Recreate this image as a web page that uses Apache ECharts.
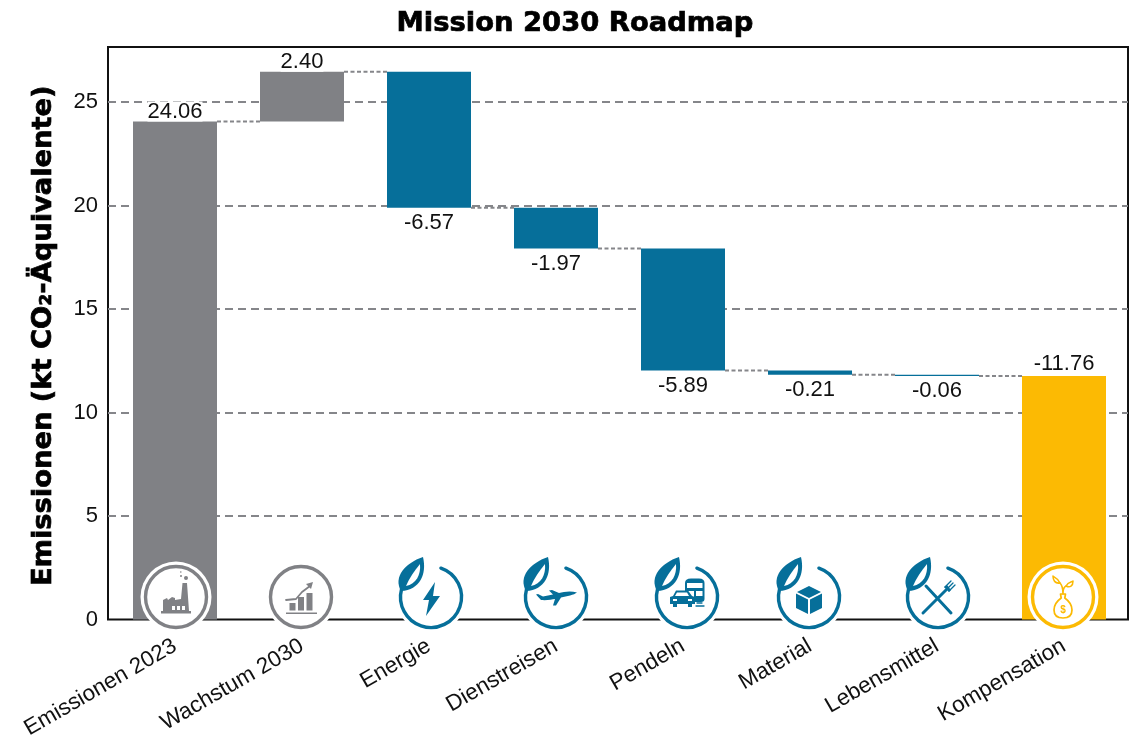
<!DOCTYPE html>
<html><head><meta charset="utf-8">
<style>html,body{margin:0;padding:0;background:#fff}#c{width:1135px;height:735px}</style>
<script src="https://cdn.jsdelivr.net/npm/echarts@6/dist/echarts.min.js"></script>
</head><body><div id="c"></div>
<script>
const categories = ['Emissionen 2023','Wachstum 2030','Energie','Dienstreisen','Pendeln','Material','Lebensmittel','Kompensation'];
const values = [24.06, 2.40, -6.57, -1.97, -5.89, -0.21, -0.06, -11.76];
const kinds = ['gray','gray','blue','blue','blue','blue','blue','gold'];
const iconNames = ['factory','growth','bolt','plane','commute','cube','cutlery','bag'];
const yTicksMax = 27.66;

const palette = {gray:'#808185', blue:'#066f9a', gold:'#fcba03'};
const SANS = '"Liberation Sans", Arial, sans-serif';
const HEAVY = '"DejaVu Sans", sans-serif';

// running totals derived from the values
const tops = [], bases = [], levels = [];
let run = 0;
values.forEach((v,i)=>{
  if (i === values.length-1) { bases.push(0); tops.push(-v); levels.push(-v); return; }
  const next = run + v;
  bases.push(Math.min(run,next));
  tops.push(Math.abs(v));
  run = next;
  levels.push(run);
});

const iconDx = [1,-1,2,0,4,-1,1,-1];
const fill = c => ({fill:c, stroke:null});
const line = (c,w) => ({fill:'none', stroke:c, lineWidth:w===undefined?1.5:w, lineCap:'round', lineJoin:'round'});
const P = (d,style) => ({type:'path', shape:{pathData:d}, style});

const LEAF = c => [
  P('M-30,-6 C-38,-20 -26,-34 -8,-40 C-4,-23 -11,-7 -30,-6 Z', fill(c)),
  P('M-25,-11 C-22,-18 -17,-26 -11,-33 C-10,-22 -15,-13 -25,-11 Z', fill('#fff'))
];
const glyphs = {
  factory: c => [
    P('M-15,14 L-13,14 L-13,3 L-9,1 L-8,3 L-4,0 L-1,1 L-1,3 L5,2 L6.5,-14 L11,-14 L13,14 L15,14 L15,16.5 L-15,16.5 Z', fill(c)),
    P('M-4,9 h3 v4 h-3 Z M1,9 h3 v4 h-3 Z M6,9 h3 v4 h-3 Z', fill('#fff')),
    P('M8,-19 a2,2 0 1 0 4,0 a2,2 0 1 0 -4,0 Z M4,-21 a1,1 0 1 0 2,0 a1,1 0 1 0 -2,0 Z M4,-25 a0.8,0.8 0 1 0 1.6,0 a0.8,0.8 0 1 0 -1.6,0 Z', fill(c))
  ],
  growth: c => [
    P('M-15,15.5 H16 V17 H-15 Z', fill(c)),
    P('M-11.5,6 h6 v7.5 h-6 Z M-3,0 h6 v13.5 h-6 Z M5.5,-4 h6 v17.5 h-6 Z', fill(c)),
    P('M-15,3 L-5,2 L1,-5 L9,-11', line(c,1.8)),
    P('M5,-13 L12,-15 L10,-8 Z', fill(c))
  ],
  bolt: c => [P('M4,-15 L-8,3 L-2,3 L-5,19 L9,-1 L2,-1 Z', fill(c))],
  plane: c => [
    P('M21,-4.5 C15,-6.5 8,-5.5 3,-4 L-4,-7 L-7,-6.5 L-3,-2.5 L-13,-0.5 L-18,-3 L-20,-2.5 L-15,3 C-9,3.5 -4,2.5 -1,2 L-3,8.5 L0,8.5 L5,0.5 C11,-1 18,-2 21,-4.5 Z', fill(c))
  ],
  commute: c => [
    P('M-2,-14 Q-2,-18.5 4,-18.5 H12 Q17.5,-18.5 17.5,-14 V2 Q17.5,5 14,5 H8 V1 H7 V-6 H-2 Z', fill(c)),
    P('M0,-14 H15.5 V-9 H0 Z M9,-6 H15.5 V-1 H9 Z', fill('#fff')),
    P('M-17,7 V0 L-14,-1 L-11,-6.5 H1 L5,-1 L8,0 V7 H5 V10 H1 V7 H-10 V10 H-14 V7 Z', fill(c)),
    P('M-10,-4.5 H0 L2,-1 H-12 Z', fill('#fff')),
    P('M-14,2 h4 v2 h-4 Z M1,2 h4 v2 h-4 Z', fill('#fff')),
    P('M10,6 L15,6 M9,9 L17,9', line(c,1.3))
  ],
  cube: c => [
    P('M0,-11 L12,-5 L0,1 L-12,-5 Z', fill(c)),
    P('M-13,-3.5 L-1,2.5 V17 L-13,11 Z', fill(c)),
    P('M13,-3.5 L1,2.5 V17 L13,11 Z', fill(c))
  ],
  cutlery: c => [
    P('M-15,16 L9,-8', line(c,3)),
    P('M-12,-11 L13,16', line(c,3)),
    P('M7,-10 L13,-16 M9,-8 L15,-14 M11,-6 L17,-12', line(c,1.3)),
    P('M6,-10 L11,-5 L13,-7 L9,-12 Z', fill(c))
  ],
  bag: c => [
    P('M0,-3 C0,-8 -1,-12 -3,-14 M0,-4 C0,-8 1,-10 3,-11', line(c,1.6)),
    P('M-3,-14 C-6,-20 -10,-20 -10,-21 C-10,-17 -8,-13 -3,-14 Z', line(c,1.6)),
    P('M3,-11 C5,-15 9,-15 10,-16 C10,-11 7,-9 3,-11 Z', line(c,1.6)),
    P('M-2.5,-3 H2.5 L1.8,1 C6,4 9,9 9,13 C9,19 5,21 0,21 C-5,21 -9,19 -9,13 C-9,9 -6,4 -1.8,1 Z', line(c,1.7)),
    {type:'text', style:{text:'$', x:0, y:13, fill:c, font:'bold 10px '+SANS, align:'center', verticalAlign:'middle'}}
  ]
};

function renderIcon(params, api){
  const i = api.value(0);
  const pt = api.coord([i,0]);
  const c = palette[kinds[i]];
  const open = kinds[i] === 'blue';
  const children = [{type:'circle', shape:{cx:0,cy:0,r:35.5}, style:{fill:'#fff'}}];
  if (open) {
    children.push({type:'arc', shape:{cx:0,cy:0,r:30.5,startAngle:-1.24,endAngle:3.40,clockwise:true},
      style:{fill:'none',stroke:c,lineWidth:3.4,lineCap:'round'}});
    children.push(...LEAF(c));
  } else {
    children.push({type:'circle', shape:{cx:0,cy:0,r:30.5}, style:{fill:'none',stroke:c,lineWidth:3.4}});
  }
  children.push(...glyphs[iconNames[i]](c));
  return {type:'group', x:pt[0]+iconDx[i], y:pt[1]-22.5, children};
}

function renderConnector(params, api){
  const i = api.value(0), lv = api.value(1);
  const a = api.coord([i,lv]), b = api.coord([i+1,lv]);
  return {type:'line', shape:{x1:a[0]+42, y1:a[1], x2:b[0]-42, y2:b[1]},
    style:{stroke:'#85868a', lineWidth:2, lineDash:[4,2.5]}};
}

const labelPos = i => (values[i] >= 0 || i === values.length-1) ? 'top' : 'bottom';
const labelGap = i => i === values.length-1 ? 2 : (labelPos(i) === 'top' ? 0 : 5);

const chart = echarts.init(document.getElementById('c'), null, {renderer:'canvas'});
chart.setOption({
  animation:false,
  backgroundColor:'#fff',
  title:{text:'Mission 2030 Roadmap', left:570, top:5, textAlign:'center',
    textStyle:{fontFamily:HEAVY, fontWeight:'bold', fontSize:27.4, color:'#000', textBorderColor:'#000', textBorderWidth:0.7}},
  grid:[
    {left:108, top:47, width:1020, height:572.5, show:true, borderColor:'#111', borderWidth:2, backgroundColor:'transparent', outerBoundsMode:'none'},
    {left:111.5, top:47, width:1016, height:572.5, outerBoundsMode:'none'}
  ],
  xAxis:[
    {type:'category', gridIndex:0, data:categories, show:false},
    {type:'category', gridIndex:1, data:categories,
      axisLine:{show:false}, axisTick:{show:false},
      axisLabel:{interval:0, rotate:30, margin:25, color:'#111', fontFamily:SANS, fontSize:22.4}}
  ],
  yAxis:[
    {type:'value', gridIndex:0, min:0, max:yTicksMax, interval:5,
      name:'Emissionen (kt CO₂-Äquivalente)', nameLocation:'middle', nameGap:51, nameRotate:90,
      nameTextStyle:{fontFamily:HEAVY, fontWeight:'bold', fontSize:27.3, color:'#000', textBorderColor:'#000', textBorderWidth:0.7, padding:[0,5,0,0]},
      axisLine:{show:false}, axisTick:{show:false},
      axisLabel:{margin:10, color:'#111', fontFamily:SANS, fontSize:22,
        formatter:v => (v % 5 === 0 ? String(v) : '')},
      splitLine:{show:true, showMinLine:false, showMaxLine:false,
        lineStyle:{color:'#85868a', width:2, type:[8,5]}}},
    {type:'value', gridIndex:1, min:0, max:yTicksMax, interval:5, show:false, splitLine:{show:false}}
  ],
  series:[
    {type:'bar', name:'base', xAxisIndex:1, yAxisIndex:1, stack:'w', barWidth:84, silent:true,
      itemStyle:{color:'transparent'}, data:bases, z:3},
    {type:'bar', name:'delta', xAxisIndex:1, yAxisIndex:1, stack:'w', barWidth:84, z:3,
      data:tops.map((t,i)=>({value:t,
        itemStyle:{color:palette[kinds[i]]},
        label:{show:true, position:labelPos(i), distance:labelGap(i),
          formatter:()=>values[i].toFixed(2), color:'#111', fontFamily:SANS, fontSize:22,
          lineHeight:20, backgroundColor:'#fff'}}))},
    {type:'custom', name:'connectors', xAxisIndex:1, yAxisIndex:1, renderItem:renderConnector, z:2, silent:true,
      data:levels.slice(0,-1).map((l,i)=>[i,l])},
    {type:'custom', name:'icons', xAxisIndex:1, yAxisIndex:1, renderItem:renderIcon, z:5, silent:true, clip:false,
      data:categories.map((c,i)=>[i,0])}
  ]
});
</script></body></html>
